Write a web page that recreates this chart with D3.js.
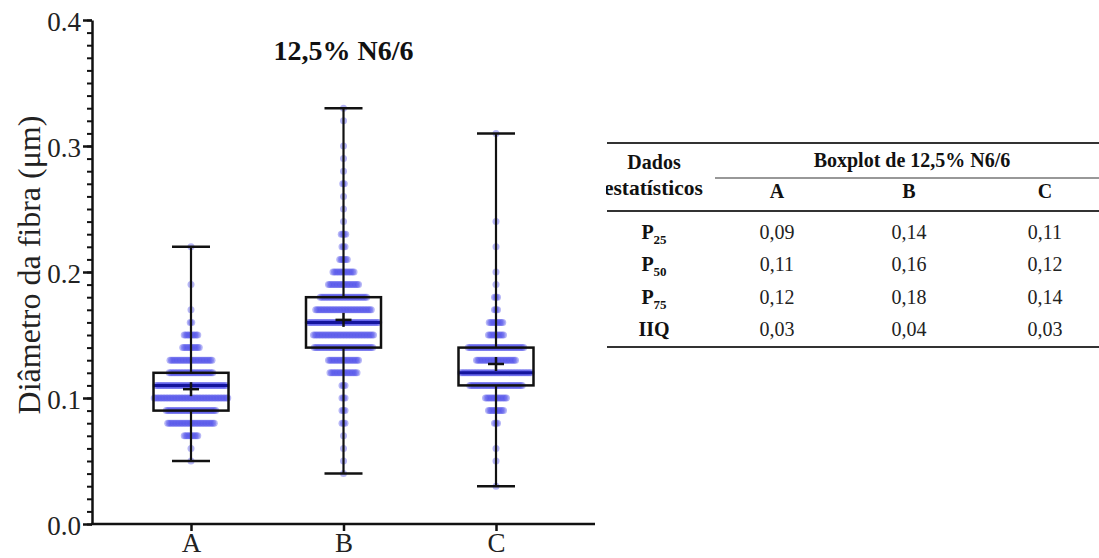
<!DOCTYPE html>
<html>
<head>
<meta charset="utf-8">
<script src="https://cdn.jsdelivr.net/npm/d3@7/dist/d3.min.js"></script>
<style>
  body { margin: 0; background: #fff; }
  svg { display: block; font-family: 'Liberation Serif', 'Times New Roman', serif; }
</style>
</head>
<body>
<div id="chart"></div>
<script>
// box statistics per category
const categories = ['A', 'B', 'C']
const q1 = [0.09, 0.14, 0.11]
const medians = [0.11, 0.16, 0.12]
const q3 = [0.12, 0.18, 0.14]
const whiskerLow = [0.05, 0.04, 0.03]
const whiskerHigh = [0.22, 0.33, 0.31]
const means = [0.107, 0.162, 0.127]

// individual fibres: [diameter, count] per category
const pointsA = [[0.05, 1], [0.06, 1], [0.07, 10], [0.08, 32], [0.09, 34], [0.10, 50], [0.11, 48],
  [0.12, 30], [0.13, 29], [0.14, 12], [0.15, 10], [0.16, 2], [0.17, 1], [0.19, 1], [0.22, 1]]
const pointsB = [[0.04, 1], [0.05, 1], [0.06, 1], [0.07, 1], [0.08, 3], [0.09, 3], [0.10, 3], [0.11, 3],
  [0.12, 19], [0.13, 21], [0.14, 40], [0.15, 41], [0.16, 48], [0.17, 38], [0.18, 32], [0.19, 21],
  [0.20, 15], [0.21, 6], [0.22, 3], [0.23, 4], [0.24, 1], [0.25, 1], [0.26, 1], [0.27, 2],
  [0.28, 1], [0.29, 1], [0.30, 1], [0.32, 1], [0.33, 1]]
const pointsC = [[0.03, 1], [0.05, 1], [0.06, 1], [0.08, 3], [0.09, 11], [0.10, 15], [0.11, 36],
  [0.12, 48], [0.13, 27], [0.14, 38], [0.15, 11], [0.16, 10], [0.17, 3], [0.18, 3], [0.19, 1],
  [0.20, 1], [0.22, 1], [0.24, 1], [0.31, 1]]
const points = [pointsA, pointsB, pointsC]

const yTicks = [0, 0.1, 0.2, 0.3, 0.4]
const tableRows = [['P', '25'], ['P', '50'], ['P', '75'], ['IIQ', '']]

const width = 1099
const height = 558

const svg = d3.select('#chart')
  .append('svg')
  .attr('width', width)
  .attr('height', height)

const y = d3.scaleLinear().domain([0, 0.4]).range([524, 20])
const x = d3.scalePoint().domain(categories).range([191, 496])
const axisLeftX = 92
const axisRightX = 595

const boxW = 75
const capW = 38
const dotStep = 1.5
const dotR = 3.5

// y axis, minor then major ticks
const yMinor = svg.append('g')
  .attr('transform', `translate(${axisLeftX},0)`)
  .call(d3.axisLeft(y).tickValues(d3.range(0, 41).map(i => i / 100)).tickSize(5).tickFormat('').tickSizeOuter(0))
yMinor.select('.domain').remove()
yMinor.selectAll('line').attr('stroke', '#111').attr('stroke-width', 2)

const yAxis = svg.append('g')
  .attr('transform', `translate(${axisLeftX},0)`)
  .call(d3.axisLeft(y).tickValues(yTicks).tickFormat(d3.format('.1f')).tickSize(9).tickSizeOuter(0).tickPadding(2))
yAxis.select('.domain').attr('stroke', '#111').attr('stroke-width', 2.5)
yAxis.selectAll('line').attr('stroke', '#111').attr('stroke-width', 2.5)
yAxis.selectAll('text')
  .attr('font-size', 27)
  .attr('font-family', "'Liberation Serif', serif")
  .attr('fill', '#222')
  .attr('dy', '0.4em')

// x axis
const xScaleAxis = d3.scaleLinear().domain([0, 1]).range([axisLeftX, axisRightX])
svg.append('line')
  .attr('x1', xScaleAxis(0) - 1).attr('x2', xScaleAxis(1))
  .attr('y1', y(0)).attr('y2', y(0))
  .attr('stroke', '#111').attr('stroke-width', 2.5)
const xAxis = svg.append('g')
  .attr('transform', `translate(0,${y(0)})`)
  .call(d3.axisBottom(x).tickSize(7).tickSizeOuter(0))
xAxis.select('.domain').remove()
xAxis.selectAll('line').attr('stroke', '#111').attr('stroke-width', 2.5)
xAxis.selectAll('text')
  .attr('font-size', 27)
  .attr('font-family', "'Liberation Serif', serif")
  .attr('fill', '#222')
  .attr('y', 28)
  .attr('dy', 0)

// y label
svg.append('text')
  .attr('transform', `translate(40,${(113 + 417) / 2}) rotate(-90)`)
  .attr('text-anchor', 'middle')
  .attr('font-size', 32)
  .attr('fill', '#222')
  .text('Diâmetro da fibra (μm)')

// title
svg.append('text')
  .attr('x', x('B'))
  .attr('y', 60)
  .attr('text-anchor', 'middle')
  .attr('font-size', 28)
  .attr('font-weight', 'bold')
  .attr('fill', '#111')
  .text('12,5% N6/6')

// boxes
categories.forEach((cat, i) => {
  const cx = x(cat)
  const g = svg.append('g')

  g.append('rect')
    .attr('x', cx - boxW / 2).attr('width', boxW)
    .attr('y', y(q3[i])).attr('height', y(q1[i]) - y(q3[i]))
    .attr('fill', '#fff')

  // scattered points, each row spread sideways
  const dots = []
  points[i].forEach(([v, n]) => {
    for (let k = 0; k < n; k++) dots.push({ v, off: (k - (n - 1) / 2) * dotStep })
  })
  g.selectAll('circle')
    .data(dots)
    .join('circle')
    .attr('cx', d => cx + d.off)
    .attr('cy', d => y(d.v))
    .attr('r', dotR)
    .attr('fill', '#5252ea')
    .attr('fill-opacity', 0.42)

  // median
  g.append('line')
    .attr('x1', cx - boxW / 2).attr('x2', cx + boxW / 2)
    .attr('y1', y(medians[i])).attr('y2', y(medians[i]))
    .attr('stroke', '#14149c').attr('stroke-width', 3)

  g.append('rect')
    .attr('x', cx - boxW / 2).attr('width', boxW)
    .attr('y', y(q3[i])).attr('height', y(q1[i]) - y(q3[i]))
    .attr('fill', 'none')
    .attr('stroke', '#111').attr('stroke-width', 2.5)

  // whiskers
  ;[[q3[i], whiskerHigh[i]], [q1[i], whiskerLow[i]]].forEach(([a, b]) => {
    g.append('line')
      .attr('x1', cx).attr('x2', cx)
      .attr('y1', y(a)).attr('y2', y(b))
      .attr('stroke', '#111').attr('stroke-width', 2.2)
    g.append('line')
      .attr('x1', cx - capW / 2).attr('x2', cx + capW / 2)
      .attr('y1', y(b)).attr('y2', y(b))
      .attr('stroke', '#111').attr('stroke-width', 2.5)
  })

  // mean marker
  const my = y(means[i])
  g.append('line')
    .attr('x1', cx - 8).attr('x2', cx + 8)
    .attr('y1', my).attr('y2', my)
    .attr('stroke', '#111').attr('stroke-width', 2.5)
  g.append('line')
    .attr('x1', cx).attr('x2', cx)
    .attr('y1', my - 7).attr('y2', my + 7)
    .attr('stroke', '#111').attr('stroke-width', 2.5)
})

// statistics table
const fmt = v => d3.format('.2f')(v).replace('.', ',')
const iqr = q3.map((v, i) => Math.round((v - q1[i]) * 100) / 100)
const tableValues = [q1, medians, q3, iqr]

svg.append('clipPath').attr('id', 'tableClip')
  .append('rect').attr('x', 606).attr('y', 0).attr('width', 500).attr('height', height)
const table = svg.append('g').attr('clip-path', 'url(#tableClip)')
const colX = [777, 909, 1045]
const labelX = 654
const rowY = [239, 271, 304, 336]

const hline = (x1, yy, w) => table.append('line')
  .attr('x1', x1).attr('x2', width)
  .attr('y1', yy).attr('y2', yy)
  .attr('stroke', '#333').attr('stroke-width', w)
hline(607, 143, 1.8)
hline(715, 178, 1.2)
hline(607, 211, 1.8)
hline(607, 347, 1.8)

table.append('text')
  .attr('x', labelX).attr('y', 169)
  .attr('text-anchor', 'middle').attr('font-size', 20).attr('font-weight', 'bold').attr('fill', '#111')
  .text('Dados')
table.append('text')
  .attr('x', 703).attr('y', 195)
  .attr('text-anchor', 'end').attr('font-size', 21.5).attr('font-weight', 'bold').attr('fill', '#111')
  .text('estatísticos')
table.append('text')
  .attr('x', 912).attr('y', 167)
  .attr('text-anchor', 'middle').attr('font-size', 20).attr('font-weight', 'bold').attr('fill', '#111')
  .text('Boxplot de 12,5% N6/6')
categories.forEach((cat, i) => {
  table.append('text')
    .attr('x', colX[i]).attr('y', 198)
    .attr('text-anchor', 'middle').attr('font-size', 20).attr('font-weight', 'bold').attr('fill', '#111')
    .text(cat)
})

tableRows.forEach(([main, sub], r) => {
  const t = table.append('text')
    .attr('x', labelX).attr('y', rowY[r])
    .attr('text-anchor', 'middle').attr('font-size', 20).attr('font-weight', 'bold').attr('fill', '#111')
  t.append('tspan').text(main)
  if (sub) t.append('tspan').attr('font-size', 13).attr('dy', 5).text(sub)
  categories.forEach((cat, i) => {
    table.append('text')
      .attr('x', colX[i]).attr('y', rowY[r])
      .attr('text-anchor', 'middle').attr('font-size', 20).attr('fill', '#222')
      .text(fmt(tableValues[r][i]))
  })
})
</script>
</body>
</html>
